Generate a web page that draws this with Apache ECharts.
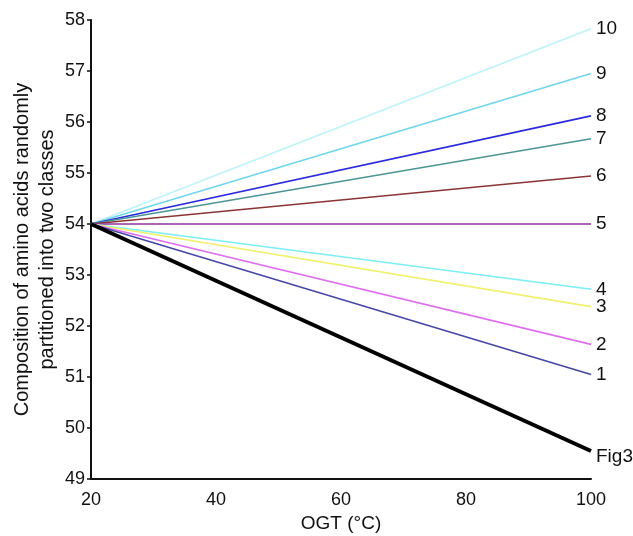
<!DOCTYPE html>
<html>
<head>
<meta charset="utf-8">
<script src="https://cdn.jsdelivr.net/npm/echarts@6/dist/echarts.min.js"></script>
<style>
  html, body { margin: 0; padding: 0; background: #fff; }
  #chart { width: 633px; height: 536px; }
</style>
</head>
<body>
<div id="chart"></div>
<script>
// data: every line starts at (20, 54)
const startX = 20;
const endX = 100;
const startY = 54;
const seriesNames = ["10", "9", "8", "7", "6", "5", "4", "3", "2", "1", "Fig3"];
const endValues = [57.83, 56.95, 56.12, 55.67, 54.94, 54.0, 52.72, 52.38, 51.64, 51.05, 49.55];
const lineColors = ["#bdf3fa", "#6fd6ec", "#2a2ade", "#4d9595", "#8b3434", "#8e329e",
  "#7ceef6", "#f2f06c", "#e06ef0", "#4646a8", "#000000"];

const chart = echarts.init(document.getElementById("chart"));

const series = seriesNames.map((name, i) => {
  const isFig = name === "Fig3";
  return {
    name: name,
    type: "line",
    data: [[startX, startY], [endX, endValues[i]]],
    symbol: "none",
    silent: true,
    z: isFig ? 5 : 3,
    lineStyle: { color: lineColors[i], width: isFig ? 4 : 1.6 },
    endLabel: {
      show: true,
      formatter: name,
      color: "#111",
      fontSize: 19,
      fontFamily: "Liberation Sans",
      distance: 5,
      offset: isFig ? [0, 6] : [0, 0],
    },
  };
});

const option = {
  animation: false,
  grid: { left: 91, right: 42, top: 20, bottom: 57, outerBoundsMode: "none" },
  xAxis: {
    type: "value",
    min: 20,
    max: 100,
    interval: 20,
    name: "OGT (°C)",
    nameLocation: "middle",
    nameGap: 33,
    nameTextStyle: { fontSize: 19, color: "#111", fontFamily: "Liberation Sans" },
    axisLine: { lineStyle: { color: "#111", width: 2 } },
    axisTick: { show: false },
    axisLabel: { fontSize: 18, color: "#111", margin: 12, fontFamily: "Liberation Sans" },
    splitLine: { show: false },
  },
  yAxis: {
    type: "value",
    min: 49,
    max: 58,
    interval: 1,
    name: "Composition of amino acids randomly\npartitioned into two classes",
    nameLocation: "middle",
    nameRotate: 90,
    nameGap: 31,
    nameMoveOverlap: false,
    nameTextStyle: { fontSize: 20, color: "#111", lineHeight: 25, fontFamily: "Liberation Sans" },
    axisLine: { show: true, lineStyle: { color: "#111", width: 2 } },
    axisTick: { show: true, length: 4, lineStyle: { color: "#111", width: 1.5 } },
    axisLabel: { fontSize: 18, color: "#111", margin: 6, fontFamily: "Liberation Sans" },
    splitLine: { show: false },
  },
  series: series,
};

chart.setOption(option);
</script>
</body>
</html>
